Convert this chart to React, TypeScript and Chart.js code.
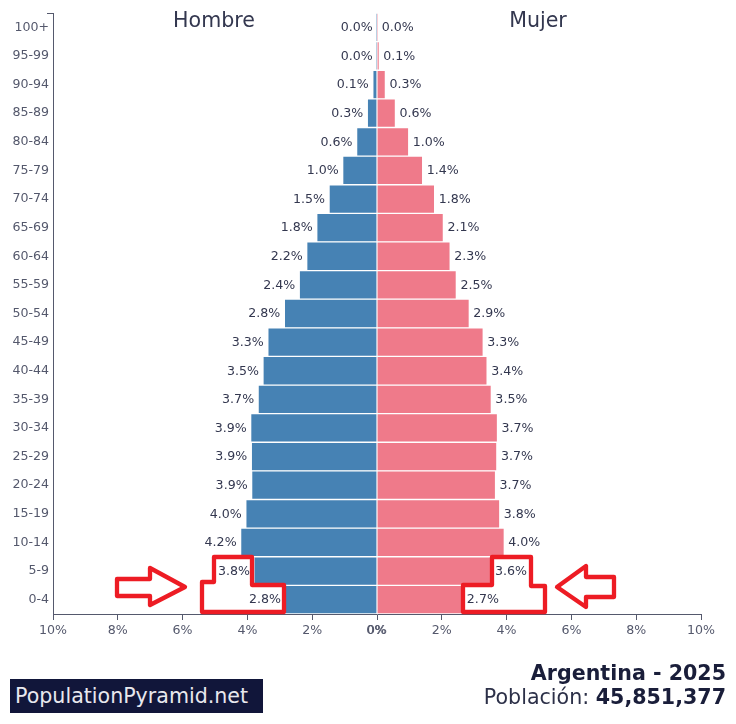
import { useEffect, useRef } from 'react'
import { Chart, registerables } from 'chart.js'

Chart.register(...registerables)

const ageGroups = ['100+', '95-99', '90-94', '85-89', '80-84', '75-79', '70-74', '65-69', '60-64', '55-59', '50-54', '45-49', '40-44', '35-39', '30-34', '25-29', '20-24', '15-19', '10-14', '5-9', '0-4']
// longitud de las barras
const hombre = [0.01, 0.01, 0.13, 0.3, 0.63, 1.06, 1.48, 1.86, 2.17, 2.4, 2.86, 3.37, 3.52, 3.67, 3.9, 3.88, 3.87, 4.05, 4.21, 3.8, 2.84]
const mujer = [0.02, 0.07, 0.26, 0.57, 0.98, 1.41, 1.78, 2.05, 2.26, 2.45, 2.85, 3.28, 3.4, 3.53, 3.72, 3.7, 3.66, 3.79, 3.93, 3.52, 2.65]
// etiquetas tal como aparecen impresas
const hombreLabels = ['0.0%', '0.0%', '0.1%', '0.3%', '0.6%', '1.0%', '1.5%', '1.8%', '2.2%', '2.4%', '2.8%', '3.3%', '3.5%', '3.7%', '3.9%', '3.9%', '3.9%', '4.0%', '4.2%', '3.8%', '2.8%']
const mujerLabels = ['0.0%', '0.1%', '0.3%', '0.6%', '1.0%', '1.4%', '1.8%', '2.1%', '2.3%', '2.5%', '2.9%', '3.3%', '3.4%', '3.5%', '3.7%', '3.7%', '3.7%', '3.8%', '4.0%', '3.6%', '2.7%']

const FONT = '"DejaVu Sans", sans-serif'
const INK = '#33374f'
const TICK = '#54586c'
const AXIS = '#55596d'
const SMALL = 12.6

// etiquetas de % al final de cada barra, titulos y remates de los ejes
const pyramidLabels = {
  id: 'pyramidLabels',
  afterDatasetsDraw(chart: Chart) {
    const { ctx, scales } = chart
    const x = scales.x
    const y = scales.y
    ctx.save()
    ctx.font = `${SMALL}px ${FONT}`
    ctx.fillStyle = INK
    ctx.textBaseline = 'middle'
    ageGroups.forEach((_, i) => {
      const py = y.getPixelForValue(i) + 0.5
      ctx.textAlign = 'right'
      ctx.fillText(hombreLabels[i], x.getPixelForValue(-hombre[i]) - 4, py)
      ctx.textAlign = 'left'
      ctx.fillText(mujerLabels[i], x.getPixelForValue(mujer[i]) + 4, py)
    })
    ctx.font = `20.6px ${FONT}`
    ctx.textAlign = 'center'
    ctx.fillText('Hombre', x.getPixelForValue(-5) - 1, 22)
    ctx.fillText('Mujer', x.getPixelForValue(5) - 1, 22)
    // el 0% sale dos veces en el original, casi encima
    ctx.font = `${SMALL}px ${FONT}`
    ctx.fillStyle = TICK
    ctx.fillText('0%', x.getPixelForValue(0) - 0.7, chart.chartArea.bottom + 9 + (SMALL * 1.2) / 2)
    ctx.strokeStyle = AXIS
    ctx.lineWidth = 1
    ctx.beginPath()
    ctx.moveTo(chart.chartArea.left - 6, chart.chartArea.top + 0.5)
    ctx.lineTo(chart.chartArea.left, chart.chartArea.top + 0.5)
    ctx.stroke()
    ctx.restore()
  },
}

function PyramidChart() {
  const canvasRef = useRef<HTMLCanvasElement | null>(null)

  useEffect(() => {
    const ctx = canvasRef.current?.getContext('2d')
    if (!ctx) return

    const chart = new Chart(ctx, {
      type: 'bar',
      data: {
        labels: ageGroups,
        datasets: [
          { label: 'Hombre', data: hombre.map((v) => -v), backgroundColor: '#4682b4', borderColor: 'rgba(255,255,255,0.55)', borderWidth: 1 },
          { label: 'Mujer', data: mujer, backgroundColor: '#ef7a8a', borderColor: 'rgba(255,255,255,0.55)', borderWidth: 1 },
        ],
      },
      options: {
        indexAxis: 'y',
        responsive: false,
        animation: false,
        events: [],
        barPercentage: 1,
        categoryPercentage: 1,
        layout: { padding: { top: 13, right: 35, bottom: 80, left: 0 } },
        plugins: { legend: { display: false }, tooltip: { enabled: false } },
        scales: {
          x: {
            stacked: true,
            min: -10,
            max: 10,
            afterFit: (s: any) => { s.height = 30 },
            border: { color: AXIS },
            grid: { drawOnChartArea: false, tickLength: 6, color: AXIS },
            ticks: {
              stepSize: 2,
              maxRotation: 0,
              autoSkip: false,
              padding: 3,
              color: TICK,
              font: { family: FONT, size: SMALL },
              callback: (v: any) => `${Math.abs(Number(v))}%`,
            },
          },
          y: {
            stacked: true,
            afterFit: (s: any) => { s.width = 53 },
            border: { color: AXIS },
            grid: { display: false, drawTicks: false },
            ticks: {
              autoSkip: false,
              padding: 4,
              color: TICK,
              font: { family: FONT, size: SMALL },
            },
          },
        },
      },
      plugins: [pyramidLabels],
    })

    return () => chart.destroy()
  }, [])

  return <canvas ref={canvasRef} width={736} height={724} style={{ position: 'absolute', left: 0, top: 0 }} />
}

// marcas rojas dibujadas a mano sobre la imagen original
const RED = '#ed1c24'
const redShapes = [
  '214,557 252,557 252,585 284,585 284,612 202,612 202,582 214,582',
  '492,557 531,557 531,586 545,586 545,612 463,612 463,585 492,585',
  '117,579 150,579 150,568 185,587 150,605 150,596 117,596',
  '557,587 586,566 586,577 614,577 614,597 586,597 586,607',
]

export default function App() {
  return (
    <div style={{ position: 'absolute', left: 0, top: 0, width: 736, height: 724, overflow: 'hidden', background: '#fff', fontFamily: FONT }}>
      <PyramidChart />
      <svg width={736} height={724} style={{ position: 'absolute', left: 0, top: 0 }}>
        {redShapes.map((pts) => (
          <polygon key={pts} points={pts} fill="none" stroke={RED} strokeWidth={4.3} strokeLinejoin="round" />
        ))}
      </svg>
      <div style={{ position: 'absolute', left: 10, top: 679, width: 253, height: 34, background: '#11163a', color: '#e8e8ee', fontSize: 20.6, lineHeight: '34px', paddingLeft: 5, boxSizing: 'border-box', whiteSpace: 'nowrap' }}>
        PopulationPyramid.net
      </div>
      <div style={{ position: 'absolute', right: 10, top: 661, textAlign: 'right', color: '#1a1e3a', fontSize: 20.6, lineHeight: '24px', whiteSpace: 'nowrap' }}>
        <div style={{ fontWeight: 'bold' }}>Argentina - 2025</div>
        <div style={{ color: '#2c3048' }}>Población: <b style={{ color: '#1a1e3a' }}>45,851,377</b></div>
      </div>
    </div>
  )
}
